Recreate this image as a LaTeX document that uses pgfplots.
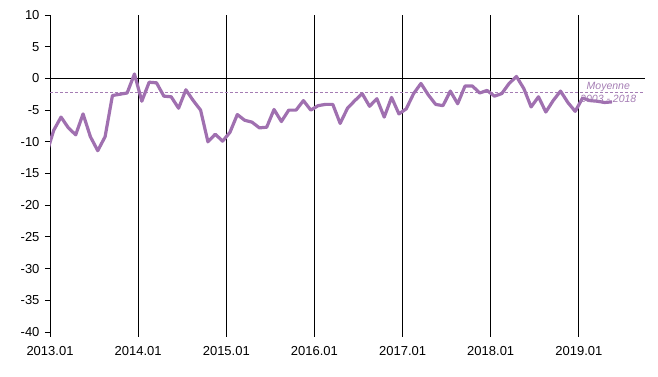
\documentclass[border=0pt]{standalone}
\usepackage{pgfplots}
\pgfplotsset{compat=1.18}
\usepackage{fontspec}
\setmainfont{Liberation Sans}
\definecolor{lineP}{RGB}{160,112,176}
\definecolor{meanP}{RGB}{165,125,180}
\begin{document}
\begin{tikzpicture}
\begin{axis}[
  scale only axis,
  width=595pt, height=317pt,
  xmin=0, xmax=81,
  ymin=-40, ymax=10,
  axis y line*=left,
  axis x line*=bottom,
  x axis line style={draw=none},
  y axis line style={black, line width=0.8pt},
  xtick={0,12,24,36,48,60,72},
  xticklabels={2013.01,2014.01,2015.01,2016.01,2017.01,2018.01,2019.01},
  ytick={-40,-35,...,10},
  tick align=outside,
  major tick length=5pt,
  tick style={black, line width=0.8pt},
  xmajorgrids,
  major grid style={black, line width=0.8pt},
  /pgf/number format/assume math mode=true,
  ticklabel style={font=\fontsize{13}{15}\selectfont},
  yticklabel style={xshift=-2pt},
  xticklabel style={yshift=-6pt},
  clip=true,
]
\draw[black, line width=0.8pt] (axis cs:0,0) -- (axis cs:81,0);
\addplot[meanP, line width=0.8pt, dash pattern=on 3pt off 2pt] coordinates {(0,-2.2) (81,-2.2)};
\addplot[lineP, line width=3.2pt, line join=round] coordinates {
(-0.5,-12.0) (0.5,-8.2) (1.5,-6.1) (2.5,-7.8) (3.5,-8.9) (4.5,-5.6) (5.5,-9.2) (6.5,-11.4)
(7.5,-9.2) (8.5,-2.7) (9.5,-2.5) (10.5,-2.3) (11.5,0.7) (12.5,-3.6) (13.5,-0.6) (14.5,-0.7)
(15.5,-2.8) (16.5,-2.9) (17.5,-4.7) (18.5,-1.8) (19.5,-3.5) (20.5,-5.0) (21.5,-10.0) (22.5,-8.8)
(23.5,-9.9) (24.5,-8.5) (25.5,-5.7) (26.5,-6.6) (27.5,-6.9) (28.5,-7.8) (29.5,-7.7) (30.5,-4.9)
(31.5,-6.8) (32.5,-5.0) (33.5,-5.0) (34.5,-3.5) (35.5,-5.0) (36.5,-4.3) (37.5,-4.1) (38.5,-4.1)
(39.5,-7.1) (40.5,-4.7) (41.5,-3.5) (42.5,-2.4) (43.5,-4.4) (44.5,-3.2) (45.5,-6.1) (46.5,-3.0)
(47.5,-5.6) (48.5,-4.8) (49.5,-2.4) (50.5,-0.8) (51.5,-2.6) (52.5,-4.1) (53.5,-4.3) (54.5,-2.0)
(55.5,-4.0) (56.5,-1.2) (57.5,-1.2) (58.5,-2.3) (59.5,-1.9) (60.5,-2.8) (61.5,-2.4) (62.5,-0.8)
(63.5,0.3) (64.5,-1.6) (65.5,-4.5) (66.5,-2.9) (67.5,-5.3) (68.5,-3.5) (69.5,-2.0) (70.5,-3.8)
(71.5,-5.2) (72.5,-3.1) (73.5,-3.5) (74.5,-3.6) (75.5,-3.8) (76.5,-3.7)
};
\node[meanP, align=center, font=\fontsize{10.5}{13}\selectfont\itshape, inner sep=0pt] at (axis cs:76,-2.15) {Moyenne\\2003 - 2018};
\end{axis}
\pgfresetboundingbox
\path (-50pt,-45pt) rectangle (608pt,332pt);
\end{tikzpicture}
\end{document}
